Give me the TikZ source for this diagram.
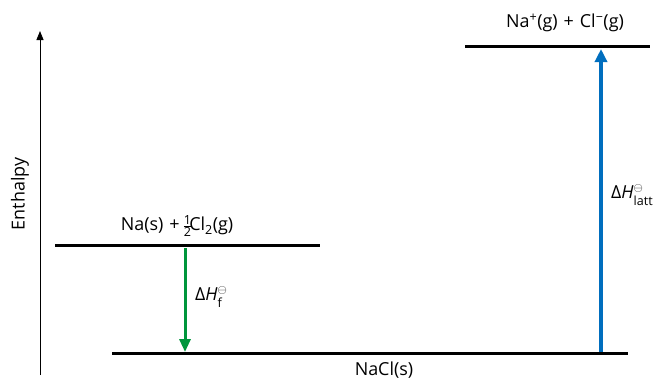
\documentclass[tikz,border=0pt]{standalone}
\usepackage{amsmath}
\usepackage{fontspec}
\setmainfont{Open Sans}
\usetikzlibrary{arrows.meta}
\definecolor{fgreen}{RGB}{0,150,60}
\definecolor{lblue}{RGB}{0,110,190}
\tikzset{
  level/.style={line width=3bp, black},
  lbl/.style={font=\fontsize{18}{20}\selectfont, inner sep=0pt},
  axis/.style={line width=0.9bp, -{Triangle[length=9bp,width=7bp]}},
  greenarrow/.style={line width=3bp, fgreen, -{Triangle[length=13bp,width=11bp]}},
  bluearrow/.style={line width=3.5bp, lblue, -{Triangle[length=13bp,width=12bp]}}
}
\begin{document}
\begin{tikzpicture}[x=1bp,y=-1bp]
\useasboundingbox (0,0) rectangle (661,381);
% axis
\coordinate (ax0) at (40,375);
\coordinate (ax1) at (40,31);
\draw[axis] (ax0) -- (ax1);
\node[lbl, rotate=90] (enth) at (20,194) {Enthalpy};
% levels
\coordinate (topL) at (465,46);
\coordinate (topR) at (650,46);
\coordinate (midL) at (55,245);
\coordinate (midR) at (320,245);
\coordinate (botL) at (112,353);
\coordinate (botR) at (628,353);
\draw[level] (topL) -- (topR);
\draw[level] (midL) -- (midR);
\draw[level] (botL) -- (botR);
% labels
\node[lbl] (ions) at (565,23) {Na\textsuperscript{+}(g)\,\,+\,\,Cl\textsuperscript{−}(g)};
\node[lbl] (elem) at (177,226) {Na(s)\,\,+\,$\frac{\text{1}}{\text{2}}$\!Cl\textsubscript{2}(g)};
\node[lbl] (nacl) at (384,370) {NaCl(s)};
% arrows
\coordinate (g0) at (185,248);
\coordinate (g1) at (185,352);
\draw[greenarrow] (g0) -- (g1);
\node[lbl, anchor=west] (dhf) at (195,297) {Δ\textit{H}$^{\scriptstyle\ominus}_{\text{f}}$};
\coordinate (b0) at (601,352);
\coordinate (b1) at (601,49);
\draw[bluearrow] (b0) -- (b1);
\node[lbl, anchor=west] (dhl) at (611,195) {Δ\textit{H}$^{\scriptstyle\ominus}_{\text{latt}}$};
\end{tikzpicture}
\end{document}
